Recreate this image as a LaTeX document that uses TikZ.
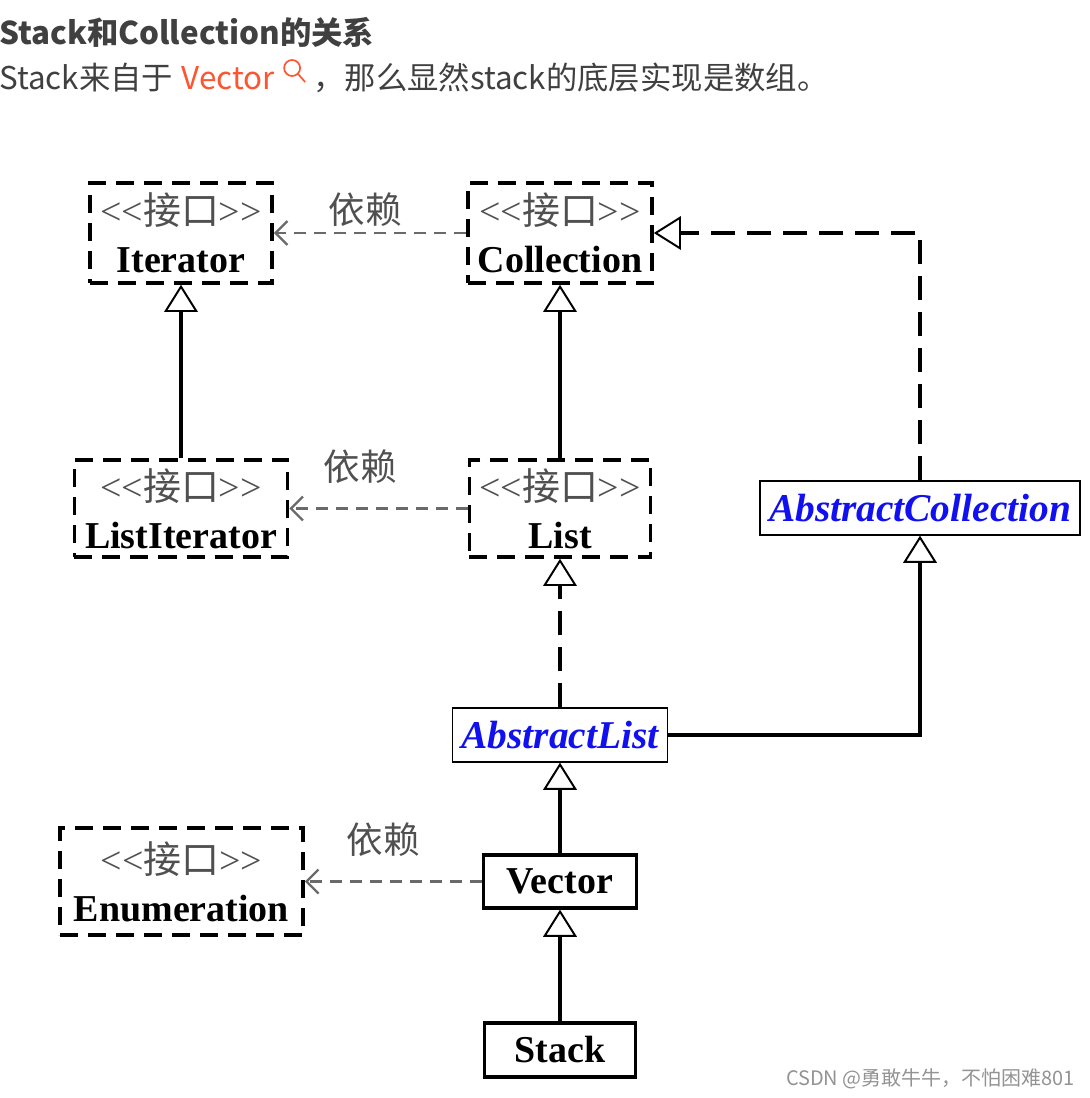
\documentclass[tikz,border=0pt]{standalone}
\usepackage{fontspec}
\setmainfont{Liberation Serif}
\newfontfamily\cjk{Noto Sans CJK SC}
\usetikzlibrary{positioning,arrows.meta}
\definecolor{ifacegray}{HTML}{505050}
\definecolor{depgray}{HTML}{6A6A6A}
\definecolor{absblue}{HTML}{1010F0}
\definecolor{csdnred}{HTML}{FC5531}
\definecolor{hdgray}{HTML}{404040}
\newcommand\stereo{{\color{ifacegray}<\kern0pt<{\cjk 接口}>\kern0pt>}}

\begin{document}
\begin{tikzpicture}[x=0.025cm,y=-0.025cm, font=\fontsize{27}{34}\selectfont,
  iface/.style={draw,dash pattern=on 0.45cm off 0.25cm,line width=2.5pt,align=center,inner sep=0pt},
  cls/.style={draw,line width=2.3pt,inner sep=0pt,font=\fontsize{27}{30}\selectfont\bfseries},
  abs/.style={draw,line width=0.9pt,inner sep=0pt,text=absblue,font=\fontsize{28}{30}\selectfont\bfseries\itshape},
  dep/.style={depgray,dash pattern=on 0.3cm off 0.2cm,line width=1.7pt,-{Straight Barb[length=3mm,width=6mm]}},
  gen/.style={line width=2.3pt,-{Triangle[open,length=6.8mm,width=8.4mm,line width=1.4pt]}},
  real/.style={gen,dash pattern=on 0.6cm off 0.3cm},
  hd/.style={inner sep=0pt,text=hdgray,font=\cjk\fontsize{22.3}{26}\selectfont}]
\useasboundingbox (0,0) rectangle (1090,1098);
% heading text
\node[hd,anchor=west,font=\cjk\bfseries\fontsize{22.3}{26}\selectfont] (ttl) at (-1,32) {Stack和Collection的关系};
\node[hd,anchor=west] (s1) at (-1,78) {Stack来自于};
\node[hd,right=0.2cm of s1,text=csdnred] (vct) {Vector};
\node[hd,right=0.95cm of vct] (s2) {，那么显然stack的底层实现是数组。};
\coordinate (mg) at ([shift={(17,-10)}]vct.east);
\draw[csdnred,line width=1.2pt] (mg) circle[radius=0.2cm] (mg) ++(6,6) -- ++(7,8);
% interfaces
\node[iface,minimum width=4.55cm,minimum height=2.5cm] (it) at (181,233) {\stereo\\\textbf{Iterator}};
\node[iface,minimum width=4.6cm,minimum height=2.5cm] (coll) at (560,233) {\stereo\\\textbf{Collection}};
\node[iface,minimum width=5.325cm,minimum height=2.425cm] (lit) at (181,508.5) {\stereo\\\textbf{ListIterator}};
\node[iface,minimum width=4.525cm,minimum height=2.425cm] (lst) at (560,508.5) {\stereo\\\textbf{List}};
\node[iface,minimum width=6.075cm,minimum height=2.675cm] (enu) at (181.5,881.5) {\stereo\\\textbf{Enumeration}};
% classes
\node[abs,minimum width=8cm,minimum height=1.35cm] (ac) at (920,508) {AbstractCollection};
\node[abs,minimum width=5.375cm,minimum height=1.35cm] (al) at (560,735) {AbstractList};
\node[cls,minimum width=3.825cm,minimum height=1.325cm] (vec) at (560,881.5) {Vector};
\node[cls,minimum width=3.775cm,minimum height=1.35cm] (stk) at (560,1050) {Stack};
% dependencies
\draw[dep] (coll) -- (it); \draw[dep] (lst) -- (lit); \draw[dep] (vec) -- (enu);
\node[text=ifacegray,font=\cjk\fontsize{26}{30}\selectfont] (d1) at (365,210) {依赖};
\node[text=ifacegray,font=\cjk\fontsize{26}{30}\selectfont] (d2) at (360,467) {依赖};
\node[text=ifacegray,font=\cjk\fontsize{26}{30}\selectfont] (d3) at (383,840) {依赖};
% inheritance
\draw[gen] (lit) -- (it); \draw[gen] (lst) -- (coll);
\draw[real] (al) -- (lst); \draw[real] (ac) |- (coll);
\draw[gen] (al) -| (ac);
\draw[gen] (vec) -- (al); \draw[gen] (stk) -- (vec);
\node[anchor=east,inner sep=0pt,text=gray!85,font=\cjk\fontsize{14.2}{17}\selectfont] (wm) at (1075,1079) {CSDN @勇敢牛牛，不怕困难801};
\end{tikzpicture}
\end{document}
